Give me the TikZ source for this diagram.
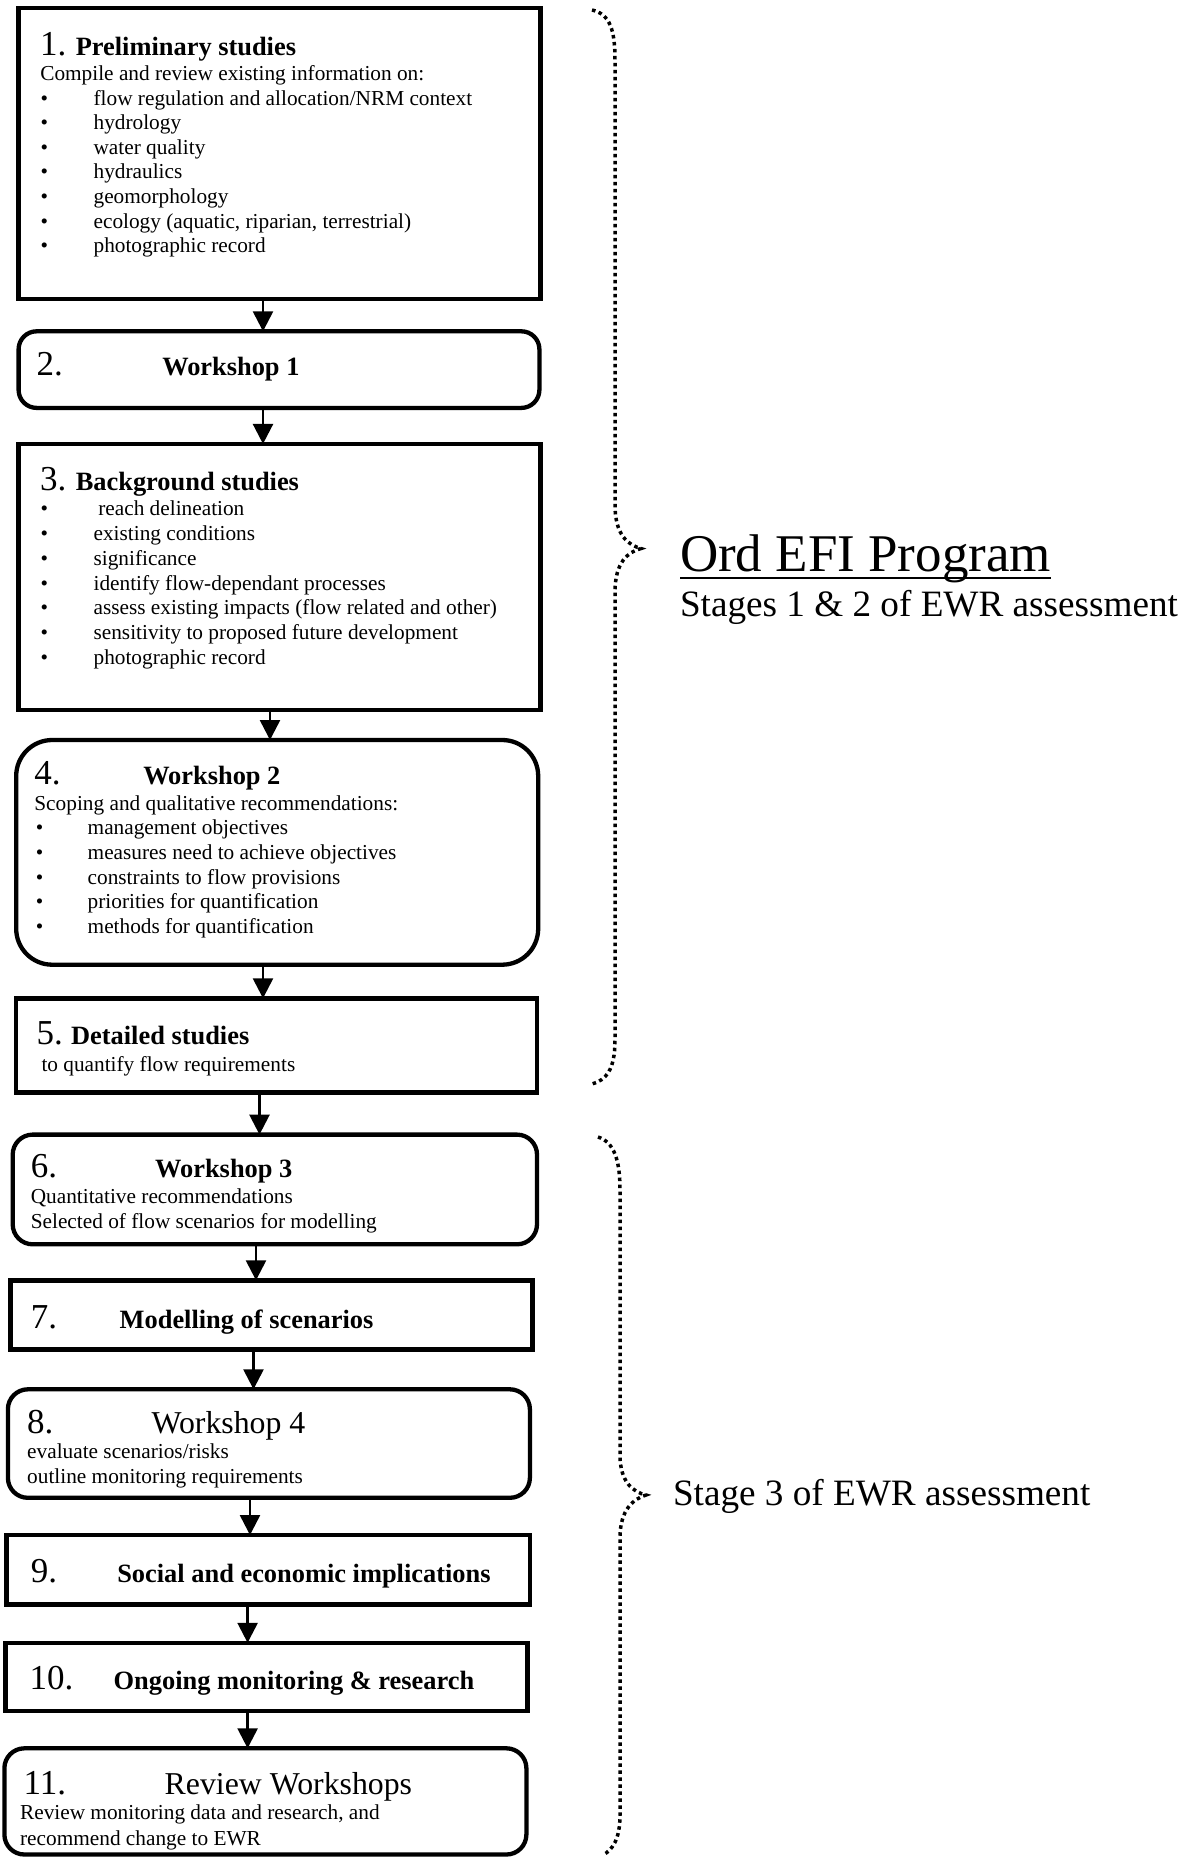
\documentclass[tikz,border=0pt]{standalone}
\usepackage{fontspec}
\setmainfont{Liberation Serif}
\usetikzlibrary{arrows.meta,fit}
\newcommand\fbody{\fontsize{21.3pt}{24.6pt}\selectfont}
\newcommand\fhead{\fontsize{26.4pt}{30pt}\selectfont\bfseries}
\newcommand\fnum{\fontsize{35pt}{40pt}\selectfont}
\newcommand\fws{\fontsize{31.8pt}{36pt}\selectfont}
\newcommand\fstage{\fontsize{37.2pt}{42pt}\selectfont}
\newcommand\ford{\fontsize{53pt}{60pt}\selectfont}
\tikzset{
  sqbox/.style={draw, line width=4.5pt, inner sep=0pt, outer sep=0pt},
  rdbox/.style={draw, line width=4.3pt, inner sep=0pt, outer sep=0pt, rounded corners=#1},
  rdbox/.default=20pt,
  txt/.style={anchor=base west, inner sep=0pt, outer sep=0pt, font=\fbody},
  num/.style={txt, font=\fnum},
  head/.style={txt, font=\fhead},
  wsh/.style={txt, font=\fws},
  stagetxt/.style={txt, font=\fstage},
  arr/.style={line width=2.5pt, -{Triangle[width=20pt,length=20pt]}},
  bracedots/.style={line width=3.5pt, dash pattern=on 3.5pt off 3.5pt},
}
\begin{document}
\begin{tikzpicture}[x=1pt,y=-1pt]
\useasboundingbox (0,0) rectangle (1193,1858);

% boxes
\node[sqbox, fit={(18.6,7.9) (540.6,298.9)}] (b1) {};
\node[rdbox=18pt, fit={(18.6,331.3) (539.4,407.9)}] (b2) {};
\node[sqbox, fit={(18.6,443.9) (540.6,710)}] (b3) {};
\node[rdbox=36pt, fit={(16.2,740) (538.2,964.7)}] (b4) {};
\node[sqbox, fit={(16.2,998.3) (537,1092.7)}] (b5) {};
\node[rdbox, fit={(12.7,1134.6) (537,1244.3)}] (b6) {};
\node[sqbox, fit={(10.3,1280.3) (532.3,1349.7)}] (b7) {};
\node[rdbox, fit={(7.9,1389.3) (529.9,1497.8)}] (b8) {};
\node[sqbox, fit={(6.7,1535) (529.9,1604.5)}] (b9) {};
\node[sqbox, fit={(5.6,1642.8) (527.6,1711)}] (b10) {};
\node[rdbox, fit={(4.4,1748.3) (526.4,1854.5)}] (b11) {};

% arrows
\foreach \s/\t/\x in {b1/b2/263, b2/b3/263, b3/b4/270, b4/b5/263, b5/b6/259.5, b6/b7/256, b7/b8/253.5, b8/b9/250, b9/b10/247.6, b10/b11/247.6} {
  \coordinate (ax\s) at (\x,0);
  \draw[arr] (\s.south -| ax\s) -- (\t.north -| ax\s);
}

% box 1
\node[num] (n1) at (40,55.7) {1.};
\node[head] (h1) at (75.8,55.7) {Preliminary studies};
\node[txt] (c1) at (40.3,80.5) {Compile and review existing information on:};
\foreach \t [count=\i] in {{flow regulation and allocation/NRM context}, hydrology, {water quality}, hydraulics, geomorphology, {ecology (aquatic, riparian, terrestrial)}, {photographic record}} {
  \node[txt] (b1d\i) at (40.5,{80.5+24.6*\i}) {\textbullet};
  \node[txt] (b1t\i) at (93.6,{80.5+24.6*\i}) {\t};
}

% box 2
\node[num] (n2) at (36.7,375.5) {2.};
\node[head] (h2) at (162.3,375.5) {Workshop 1};

% box 3
\node[num] (n3) at (40,490.5) {3.};
\node[head] (h3) at (75.8,490.5) {Background studies};
\node[txt] (b3d1) at (40.5,515.3) {\textbullet};
\node[txt] (b3t1) at (98.3,515.3) {reach delineation};
\foreach \t [count=\i from 2] in {{existing conditions}, significance, {identify flow-dependant processes}, {assess existing impacts (flow related and other)}, {sensitivity to proposed future development}, {photographic record}} {
  \node[txt] (b3d\i) at (40.5,{515.3+24.9*(\i-1)}) {\textbullet};
  \node[txt] (b3t\i) at (93.6,{515.3+24.9*(\i-1)}) {\t};
}

% box 4
\node[num] (n4) at (34.4,784.3) {4.};
\node[head] (h4) at (143.3,784.3) {Workshop 2};
\node[txt] (c4) at (34.4,810.3) {Scoping and qualitative recommendations:};
\foreach \t [count=\i] in {{management objectives}, {measures need to achieve objectives}, {constraints to flow provisions}, {priorities for quantification}, {methods for quantification}} {
  \node[txt] (b4d\i) at (35.8,{810.3+24.6*\i}) {\textbullet};
  \node[txt] (b4t\i) at (87.7,{810.3+24.6*\i}) {\t};
}

% box 5
\node[num] (n5) at (36.7,1044.9) {5.};
\node[head] (h5) at (71.1,1044.9) {Detailed studies};
\node[txt] (c5) at (41.5,1071) {to quantify flow requirements};

% box 6
\node[num] (n6) at (30.8,1177.6) {6.};
\node[head] (h6) at (155.2,1177.6) {Workshop 3};
\node[txt] (c6a) at (30.8,1203.7) {Quantitative recommendations};
\node[txt] (c6b) at (30.8,1228.5) {Selected of flow scenarios for modelling};

% box 7
\node[num] (n7) at (30.8,1328) {7.};
\node[head] (h7) at (119.7,1328) {Modelling of scenarios};

% box 8
\node[num] (n8) at (27.2,1433.5) {8.};
\node[wsh] (h8) at (151.6,1433.5) {Workshop 4};
\node[txt] (c8a) at (27.2,1458.4) {evaluate scenarios/risks};
\node[txt] (c8b) at (27.2,1483.3) {outline monitoring requirements};

% box 9
\node[num] (n9) at (30.8,1582.8) {9.};
\node[head] (h9) at (117.3,1582.8) {Social and economic implications};

% box 10
\node[num] (n10) at (29.6,1689.4) {10.};
\node[head] (h10) at (113.7,1689.4) {Ongoing monitoring \& research};

% box 11
\node[num] (n11) at (23.7,1794.8) {11.};
\node[wsh] (h11) at (164.7,1794.8) {Review Workshops};
\node[txt] (c11a) at (20.1,1819.7) {Review monitoring data and research, and};
\node[txt] (c11b) at (20.1,1845.8) {recommend change to EWR};

% braces
\draw[bracedots] (592,10) .. controls (610,14) and (615,30) .. (615,60)
  -- (615,505) .. controls (615,535) and (628,545) .. (641,548.5)
  .. controls (628,552) and (615,562) .. (615,592)
  -- (615,1040) .. controls (615,1070) and (606,1080) .. (592,1084);
\draw[bracedots] (598,1137) .. controls (614,1142) and (620,1160) .. (620,1190)
  -- (620,1455) .. controls (620,1482) and (633,1492) .. (646,1495)
  .. controls (633,1499) and (620,1510) .. (620,1538)
  -- (620,1815) .. controls (620,1840) and (612,1850) .. (603,1855);

% right labels
\node[txt, font=\ford] (ord) at (680,571) {Ord EFI Program};
\draw[line width=2.5pt] ([yshift=-7pt]ord.base west) -- ([yshift=-7pt]ord.base east);
\node[stagetxt] (st12) at (680,616) {Stages 1 \& 2 of EWR assessment};
\node[stagetxt] (st3) at (673,1505.8) {Stage 3 of EWR assessment};
\end{tikzpicture}
\end{document}
